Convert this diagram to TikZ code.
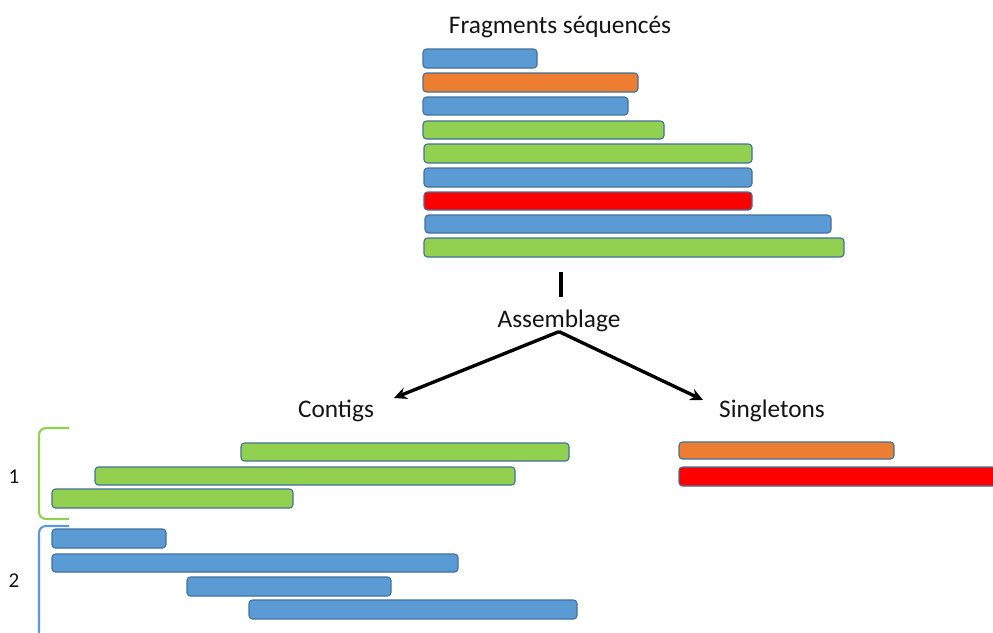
\documentclass[tikz,border=0pt]{standalone}
\usepackage{fontspec}
\setmainfont{Carlito}
\usepackage{tikz}
\usetikzlibrary{arrows.meta, positioning}
\definecolor{fragblue}{RGB}{91,155,213}
\definecolor{fragorange}{RGB}{237,125,49}
\definecolor{fraggreen}{RGB}{146,208,80}
\definecolor{fragred}{RGB}{255,0,0}
\definecolor{barline}{RGB}{65,113,156}
\definecolor{txtdark}{RGB}{20,20,20}
\tikzset{
  bar/.style={draw=barline, line width=0.8pt, rounded corners=2.5pt},
  label/.style={font=\fontsize{18}{20}\selectfont, text=txtdark, inner sep=0pt, anchor=base},
  numlabel/.style={font=\fontsize{15}{17}\selectfont, text=txtdark, inner sep=0pt, anchor=base},
  arrow/.style={-{Stealth[length=9pt, width=8.5pt]}, line width=2.4pt, color=black},
  line/.style={line width=2.4pt, color=black},
  bracket/.style={line width=1.5pt, rounded corners=5pt}
}
\begin{document}
\begin{tikzpicture}[x=0.025cm, y=-0.025cm]
  \useasboundingbox (0,0) rectangle (993,632);
  \fill[white] (0,0) rectangle (993,632);
  \clip (0,0) rectangle (993,632);
  % Sequenced fragments
  \node[label] (frag) at (560,33) {Fragments séquencés};
  \draw[bar, fill=fragblue]   (423,49)  rectangle (537,68);
  \draw[bar, fill=fragorange] (423,73)  rectangle (638,92);
  \draw[bar, fill=fragblue]   (423,97)  rectangle (628,115);
  \draw[bar, fill=fraggreen]  (423,121) rectangle (664,139);
  \draw[bar, fill=fraggreen]  (424,144) rectangle (752,163);
  \draw[bar, fill=fragblue]   (424,168) rectangle (752,187);
  \draw[bar, fill=fragred]    (424,192) rectangle (752,210);
  \draw[bar, fill=fragblue]   (425,215) rectangle (831,233);
  \draw[bar, fill=fraggreen]  (424,238) rectangle (844,257);
  % Assembly step
  \coordinate (fragbot) at (561,272);
  \coordinate (asmtop) at (561,297);
  \draw[line] (fragbot) -- (asmtop);
  \node[label] (asm) at (559,327) {Assemblage};
  \node[label] (contigs) at (336,417) {Contigs};
  \node[label] (single) at (772,417) {Singletons};
  \coordinate (contigtip) at (394,398);
  \coordinate (singletip) at (703,400);
  \draw[arrow] (asm.south) -- (contigtip);
  \draw[arrow] (asm.south) -- (singletip);
  % Contig 1
  \node[numlabel] (c1) at (14,483) {1};
  \draw[bracket, color=fraggreen] (69,428) -- (39,428) -- (39,519) -- (69,519);
  \draw[bar, fill=fraggreen] (241,443) rectangle (569,461);
  \draw[bar, fill=fraggreen] (95,467)  rectangle (515,485);
  \draw[bar, fill=fraggreen] (52,489)  rectangle (293,508);
  % Contig 2
  \node[numlabel] (c2) at (14,587) {2};
  \draw[bracket, color=fragblue] (69,526) -- (39,526) -- (39,645);
  \draw[bar, fill=fragblue] (52,529)  rectangle (166,548);
  \draw[bar, fill=fragblue] (52,554)  rectangle (458,572);
  \draw[bar, fill=fragblue] (187,577) rectangle (391,596);
  \draw[bar, fill=fragblue] (249,600) rectangle (577,619);
  % Singletons
  \draw[bar, fill=fragorange] (679,442) rectangle (894,459);
  \draw[bar, fill=fragred]    (679,467) rectangle (1005,486);
\end{tikzpicture}
\end{document}
